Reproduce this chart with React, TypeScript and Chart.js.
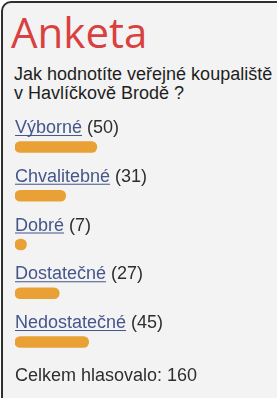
import React, { useEffect, useRef } from "react";
import { Chart, registerables } from "chart.js";

Chart.register(...registerables);

const title = "Anketa";
const questionLines = ["Jak hodnotíte veřejné koupaliště", "v Havlíčkově Brodě ?"];
const categories = ["Výborné", "Chvalitebné", "Dobré", "Dostatečné", "Nedostatečné"];
const votes = [50, 31, 7, 27, 45];
const totalVotes = 160;
const totalLabel = "Celkem hlasovalo: ";

const BAR_COLOR = "#e9a136";
const LINK_COLOR = "#45568a";
const TEXT_COLOR = "#2e2e2e";
const LABEL_FONT = '18px "Liberation Sans", Arial, sans-serif';

const labelPlugin = {
  id: "pollLabels",
  afterDatasetsDraw(chart: any) {
    const ctx = chart.ctx;
    const meta = chart.getDatasetMeta(0);
    const left = chart.chartArea.left;
    ctx.save();
    ctx.font = LABEL_FONT;
    ctx.textBaseline = "alphabetic";
    ctx.textAlign = "left";
    meta.data.forEach((el: any, i: number) => {
      const baseY = el.y - 14;
      const name = categories[i];
      const w = ctx.measureText(name).width;
      ctx.fillStyle = LINK_COLOR;
      ctx.fillText(name, left, baseY);
      ctx.fillRect(left, baseY + 2, w, 1);
      ctx.fillStyle = TEXT_COLOR;
      ctx.fillText(" (" + votes[i] + ")", left + w, baseY);
    });
    ctx.restore();
  },
};

export default function App() {
  const canvasRef = useRef<HTMLCanvasElement | null>(null);

  useEffect(() => {
    document.body.style.margin = "0";
    const canvas = canvasRef.current;
    if (!canvas) return;
    const chart = new Chart(canvas, {
      type: "bar",
      data: {
        labels: categories,
        datasets: [
          {
            data: votes,
            backgroundColor: BAR_COLOR,
            borderWidth: 0,
            borderRadius: 6,
            borderSkipped: false,
            barThickness: 11,
          },
        ],
      },
      options: {
        indexAxis: "y",
        responsive: false,
        animation: false,
        devicePixelRatio: 1,
        layout: { padding: { left: 15, right: 0, top: 22.6, bottom: 23.6 } },
        scales: {
          x: { display: false, min: 0, max: totalVotes },
          y: { display: false },
        },
        plugins: {
          legend: { display: false },
          tooltip: { enabled: false },
        },
      },
      plugins: [labelPlugin],
    } as any);
    return () => chart.destroy();
  }, []);

  return (
    <div
      style={{
        position: "fixed",
        left: 0,
        top: 0,
        width: 277,
        height: 398,
        overflow: "hidden",
        background: "#ffffff",
      }}
    >
      <div
        style={{
          position: "absolute",
          left: 1,
          top: 1,
          width: 320,
          height: 440,
          border: "2px solid #2f2f2f",
          borderRadius: 10,
          background: "#f3f3f3",
        }}
      />
      <div
        style={{
          position: "absolute",
          left: 11,
          top: 10.7,
          font: '42px "Open Sans", sans-serif',
          lineHeight: "42px",
          color: "#d9403f",
          whiteSpace: "nowrap",
        }}
      >
        {title}
      </div>
      <div
        style={{
          position: "absolute",
          left: 14,
          top: 65.3,
          font: LABEL_FONT,
          lineHeight: "19px",
          color: "#1e1e1e",
          whiteSpace: "nowrap",
        }}
      >
        {questionLines.map((l, i) => (
          <div key={i}>{l}</div>
        ))}
      </div>
      <canvas
        ref={canvasRef}
        width={277}
        height={290}
        style={{ position: "absolute", left: 0, top: 100, width: 277, height: 290 }}
      />
      <div
        style={{
          position: "absolute",
          left: 15,
          top: 366.3,
          font: LABEL_FONT,
          lineHeight: "19px",
          color: TEXT_COLOR,
          whiteSpace: "nowrap",
        }}
      >
        {totalLabel + totalVotes}
      </div>
    </div>
  );
}
